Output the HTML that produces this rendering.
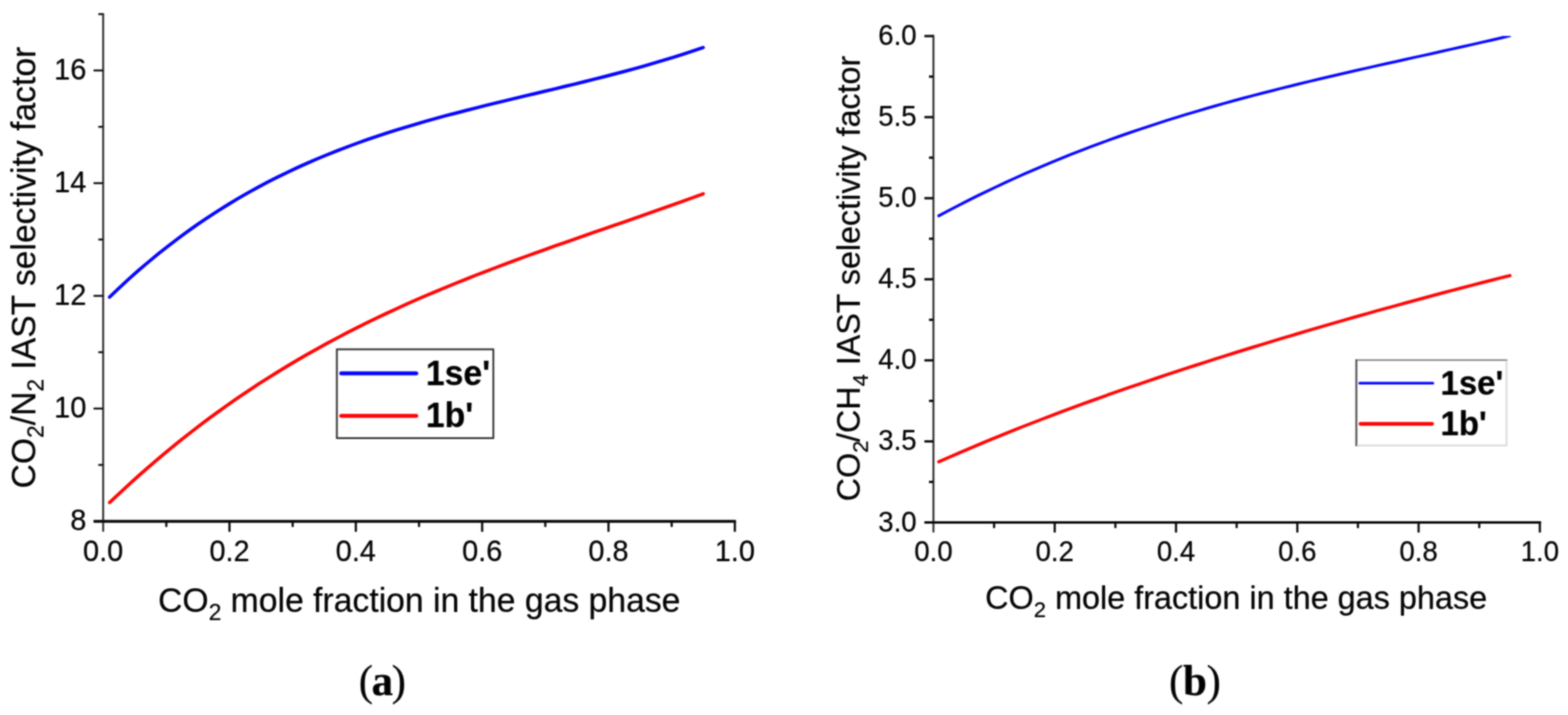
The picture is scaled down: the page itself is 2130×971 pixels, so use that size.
<!DOCTYPE html>
<html lang="en">
<head>
<meta charset="utf-8">
<title>IAST selectivity factors</title>
<style>
html,body{margin:0;padding:0;background:#fff;width:2130px;height:971px;}
svg{display:block;}
.sans{font-family:"Liberation Sans",Arial,Helvetica,sans-serif;}
.serif{font-family:"Liberation Serif","DejaVu Serif",serif;}
.ax{stroke:#000;fill:none;stroke-linecap:butt;}
text{fill:#000;}
.thin{stroke:none;stroke-width:0;stroke-linejoin:round;}
.thin2{stroke:#fff;stroke-width:0.3px;stroke-linejoin:round;}
</style>
</head>
<body>
<svg width="2130" height="971" viewBox="0 0 2130 971" role="img" aria-label="IAST selectivity factor plots (a) and (b)">
<defs><filter id="soft" x="0" y="0" width="2130" height="971" filterUnits="userSpaceOnUse"><feGaussianBlur in="SourceGraphic" stdDeviation="0.8" result="b0"/><feComponentTransfer in="b0" result="b"><feFuncA type="linear" slope="1.0"/></feComponentTransfer><feComponentTransfer in="SourceGraphic" result="s"><feFuncA type="linear" slope="0.3"/></feComponentTransfer><feMerge><feMergeNode in="b"/><feMergeNode in="s"/></feMerge></filter></defs>
<rect x="0" y="0" width="2130" height="971" fill="#ffffff"/>
<g filter="url(#soft)">

<g id="chart-a">
<g class="ax">
<line x1="140.15" y1="18.1" x2="140.15" y2="722.1" stroke="#222" stroke-width="2.2"/>
<line x1="127.15" y1="708" x2="999.6" y2="708" stroke="#000" stroke-width="3.3"/>
<line x1="127.15" y1="554.85" x2="140.15" y2="554.85" stroke="#000" stroke-width="2.2"/>
<line x1="127.15" y1="401.8" x2="140.15" y2="401.8" stroke="#000" stroke-width="2.2"/>
<line x1="127.15" y1="248.75" x2="140.15" y2="248.75" stroke="#000" stroke-width="2.2"/>
<line x1="127.15" y1="95.7" x2="140.15" y2="95.7" stroke="#000" stroke-width="2.2"/>
<line x1="133.65" y1="631.38" x2="140.15" y2="631.38" stroke="#000" stroke-width="2.2"/>
<line x1="133.65" y1="478.32" x2="140.15" y2="478.32" stroke="#000" stroke-width="2.2"/>
<line x1="133.65" y1="325.28" x2="140.15" y2="325.28" stroke="#000" stroke-width="2.2"/>
<line x1="133.65" y1="172.23" x2="140.15" y2="172.23" stroke="#000" stroke-width="2.2"/>
<line x1="133.65" y1="19.18" x2="140.15" y2="19.18" stroke="#000" stroke-width="2.2"/>
<line x1="225.96" y1="708" x2="225.96" y2="715.5" stroke="#000" stroke-width="2.6"/>
<line x1="311.76" y1="708" x2="311.76" y2="722.1" stroke="#000" stroke-width="2.6"/>
<line x1="397.57" y1="708" x2="397.57" y2="715.5" stroke="#000" stroke-width="2.6"/>
<line x1="483.37" y1="708" x2="483.37" y2="722.1" stroke="#000" stroke-width="2.6"/>
<line x1="569.18" y1="708" x2="569.18" y2="715.5" stroke="#000" stroke-width="2.6"/>
<line x1="654.98" y1="708" x2="654.98" y2="722.1" stroke="#000" stroke-width="2.6"/>
<line x1="740.78" y1="708" x2="740.78" y2="715.5" stroke="#000" stroke-width="2.6"/>
<line x1="826.59" y1="708" x2="826.59" y2="722.1" stroke="#000" stroke-width="2.6"/>
<line x1="912.4" y1="708" x2="912.4" y2="715.5" stroke="#000" stroke-width="2.6"/>
<line x1="998.2" y1="708" x2="998.2" y2="722.1" stroke="#000" stroke-width="2.6"/>
</g>
<g class="sans thin" font-size="39.3">
<text transform="translate(117.3 720.37) scale(1 1.045)" text-anchor="end">8</text>
<text transform="translate(117.3 567.32) scale(1 1.045)" text-anchor="end">10</text>
<text transform="translate(117.3 414.27) scale(1 1.045)" text-anchor="end">12</text>
<text transform="translate(117.3 261.22) scale(1 1.045)" text-anchor="end">14</text>
<text transform="translate(117.3 108.17) scale(1 1.045)" text-anchor="end">16</text>
<text transform="translate(140.15 761.8) scale(1 1.045)" text-anchor="middle">0.0</text>
<text transform="translate(311.76 761.8) scale(1 1.045)" text-anchor="middle">0.2</text>
<text transform="translate(483.37 761.8) scale(1 1.045)" text-anchor="middle">0.4</text>
<text transform="translate(654.98 761.8) scale(1 1.045)" text-anchor="middle">0.6</text>
<text transform="translate(826.59 761.8) scale(1 1.045)" text-anchor="middle">0.8</text>
<text transform="translate(998.2 761.8) scale(1 1.045)" text-anchor="middle">1.0</text>
</g>
<text class="sans" font-size="45.8" transform="translate(569.5 831) scale(1 1.0)" text-anchor="middle">CO<tspan font-size="31" dy="11.0">2</tspan><tspan dy="-11.0"> mole fraction in the gas phase</tspan></text>
<text class="sans" font-size="45.7" transform="translate(47.7 363.4) rotate(-90) scale(1 1.0)" text-anchor="middle">CO<tspan font-size="31" dy="11.0">2</tspan><tspan dy="-11.0" dx="0">/N</tspan><tspan font-size="31" dy="11.0">2</tspan><tspan dy="-11.0"> IAST selectivity factor</tspan></text>
<path d="M148.8 403.5 L162.2 390.7 L175.7 378.3 L189.1 366.4 L202.6 355.0 L216.0 343.9 L229.5 333.3 L242.9 323.1 L256.3 313.3 L269.8 303.8 L283.2 294.7 L296.7 286.0 L310.1 277.6 L323.5 269.5 L337.0 261.8 L350.4 254.4 L363.9 247.2 L377.3 240.4 L390.8 233.8 L404.2 227.5 L417.6 221.5 L431.1 215.6 L444.5 210.1 L458.0 204.7 L471.4 199.6 L484.8 194.6 L498.3 189.8 L511.7 185.2 L525.2 180.8 L538.6 176.5 L552.0 172.4 L565.5 168.4 L578.9 164.5 L592.4 160.8 L605.8 157.1 L619.3 153.6 L632.7 150.1 L646.1 146.7 L659.6 143.3 L673.0 140.0 L686.5 136.8 L699.9 133.5 L713.3 130.3 L726.8 127.1 L740.2 123.9 L753.7 120.7 L767.1 117.4 L780.6 114.2 L794.0 110.9 L807.4 107.5 L820.9 104.1 L834.3 100.6 L847.8 97.1 L861.2 93.4 L874.7 89.7 L888.1 85.8 L901.5 81.8 L915.0 77.7 L928.4 73.5 L941.9 69.1 L955.3 64.6" fill="none" stroke="#0000ff" stroke-width="4.2" stroke-linejoin="round" stroke-linecap="round"/>
<path d="M148.8 682.6 L162.2 669.9 L175.7 657.5 L189.1 645.4 L202.6 633.6 L216.0 622.1 L229.5 610.9 L242.9 599.9 L256.3 589.3 L269.8 578.9 L283.2 568.8 L296.7 559.0 L310.1 549.4 L323.5 540.1 L337.0 531.0 L350.4 522.1 L363.9 513.5 L377.3 505.1 L390.8 496.9 L404.2 488.9 L417.6 481.1 L431.1 473.6 L444.5 466.2 L458.0 459.0 L471.4 451.9 L484.8 445.1 L498.3 438.4 L511.7 431.9 L525.2 425.5 L538.6 419.3 L552.0 413.2 L565.5 407.2 L578.9 401.4 L592.4 395.7 L605.8 390.1 L619.3 384.6 L632.7 379.2 L646.1 373.9 L659.6 368.7 L673.0 363.6 L686.5 358.5 L699.9 353.5 L713.3 348.6 L726.8 343.7 L740.2 338.9 L753.7 334.1 L767.1 329.4 L780.6 324.7 L794.0 320.0 L807.4 315.3 L820.9 310.7 L834.3 306.0 L847.8 301.4 L861.2 296.7 L874.7 292.0 L888.1 287.3 L901.5 282.6 L915.0 277.8 L928.4 273.0 L941.9 268.1 L955.3 263.2" fill="none" stroke="#ff0000" stroke-width="4.2" stroke-linejoin="round" stroke-linecap="round"/>
<g id="legend-a">
<rect x="457.6" y="474.4" width="212.6" height="120.6" fill="none" stroke="#222" stroke-width="2"/>
<line x1="463.5" y1="507" x2="565.5" y2="507" stroke="#0000ff" stroke-width="5" stroke-linecap="round"/>
<line x1="463.5" y1="564.7" x2="565.5" y2="564.7" stroke="#ff0000" stroke-width="5" stroke-linecap="round"/>
<text class="sans" font-weight="bold" font-size="45.8" transform="translate(578.6 522.9) scale(1 1.04)">1se'</text>
<text class="sans" font-weight="bold" font-size="45.8" transform="translate(578.6 579.8) scale(1 1.04)">1b'</text>
</g>
<text class="serif" font-size="58.5" x="518.3" y="943.6" text-anchor="middle" letter-spacing="-2">(<tspan font-weight="bold">a</tspan>)</text>
</g>
<g id="chart-b">
<g class="ax">
<line x1="1268" y1="47.6" x2="1268" y2="723.1" stroke="#222" stroke-width="2.2"/>
<line x1="1255.8" y1="709.6" x2="2093.3" y2="709.6" stroke="#000" stroke-width="3.0"/>
<line x1="1255.8" y1="599.42" x2="1268" y2="599.42" stroke="#000" stroke-width="2.8"/>
<line x1="1255.8" y1="489.33" x2="1268" y2="489.33" stroke="#000" stroke-width="2.8"/>
<line x1="1255.8" y1="379.25" x2="1268" y2="379.25" stroke="#000" stroke-width="2.8"/>
<line x1="1255.8" y1="269.17" x2="1268" y2="269.17" stroke="#000" stroke-width="2.8"/>
<line x1="1255.8" y1="159.08" x2="1268" y2="159.08" stroke="#000" stroke-width="2.8"/>
<line x1="1255.8" y1="49" x2="1268" y2="49" stroke="#000" stroke-width="2.8"/>
<line x1="1262" y1="654.46" x2="1268" y2="654.46" stroke="#000" stroke-width="2.8"/>
<line x1="1262" y1="544.38" x2="1268" y2="544.38" stroke="#000" stroke-width="2.8"/>
<line x1="1262" y1="434.29" x2="1268" y2="434.29" stroke="#000" stroke-width="2.8"/>
<line x1="1262" y1="324.21" x2="1268" y2="324.21" stroke="#000" stroke-width="2.8"/>
<line x1="1262" y1="214.12" x2="1268" y2="214.12" stroke="#000" stroke-width="2.8"/>
<line x1="1262" y1="104.04" x2="1268" y2="104.04" stroke="#000" stroke-width="2.8"/>
<line x1="1350.38" y1="709.6" x2="1350.38" y2="717.1" stroke="#000" stroke-width="2.6"/>
<line x1="1432.76" y1="709.6" x2="1432.76" y2="723.1" stroke="#000" stroke-width="2.6"/>
<line x1="1515.14" y1="709.6" x2="1515.14" y2="717.1" stroke="#000" stroke-width="2.6"/>
<line x1="1597.52" y1="709.6" x2="1597.52" y2="723.1" stroke="#000" stroke-width="2.6"/>
<line x1="1679.9" y1="709.6" x2="1679.9" y2="717.1" stroke="#000" stroke-width="2.6"/>
<line x1="1762.28" y1="709.6" x2="1762.28" y2="723.1" stroke="#000" stroke-width="2.6"/>
<line x1="1844.66" y1="709.6" x2="1844.66" y2="717.1" stroke="#000" stroke-width="2.6"/>
<line x1="1927.04" y1="709.6" x2="1927.04" y2="723.1" stroke="#000" stroke-width="2.6"/>
<line x1="2009.42" y1="709.6" x2="2009.42" y2="717.1" stroke="#000" stroke-width="2.6"/>
<line x1="2091.8" y1="709.6" x2="2091.8" y2="723.1" stroke="#000" stroke-width="2.6"/>
</g>
<g class="sans thin" font-size="37.5">
<text transform="translate(1245.2 721.52) scale(1 1.045)" text-anchor="end">3.0</text>
<text transform="translate(1245.2 611.44) scale(1 1.045)" text-anchor="end">3.5</text>
<text transform="translate(1245.2 501.36) scale(1 1.045)" text-anchor="end">4.0</text>
<text transform="translate(1245.2 391.28) scale(1 1.045)" text-anchor="end">4.5</text>
<text transform="translate(1245.2 281.19) scale(1 1.045)" text-anchor="end">5.0</text>
<text transform="translate(1245.2 171.11) scale(1 1.045)" text-anchor="end">5.5</text>
<text transform="translate(1245.2 61.02) scale(1 1.045)" text-anchor="end">6.0</text>
<text transform="translate(1268 761.8) scale(1 1.045)" text-anchor="middle">0.0</text>
<text transform="translate(1432.76 761.8) scale(1 1.045)" text-anchor="middle">0.2</text>
<text transform="translate(1597.52 761.8) scale(1 1.045)" text-anchor="middle">0.4</text>
<text transform="translate(1762.28 761.8) scale(1 1.045)" text-anchor="middle">0.6</text>
<text transform="translate(1927.04 761.8) scale(1 1.045)" text-anchor="middle">0.8</text>
<text transform="translate(2091.8 761.8) scale(1 1.045)" text-anchor="middle">1.0</text>
</g>
<text class="sans" font-size="44.0" transform="translate(1679.2 827) scale(1 1.0)" text-anchor="middle">CO<tspan font-size="30" dy="10.6">2</tspan><tspan dy="-10.6"> mole fraction in the gas phase</tspan></text>
<text class="sans" font-size="43.8" transform="translate(1167.9 378.2) rotate(-90) scale(1 1.0)" text-anchor="middle">CO<tspan font-size="30" dy="10.6">2</tspan><tspan dy="-10.6" dx="-2">/CH</tspan><tspan font-size="30" dy="10.6">4</tspan><tspan dy="-10.6"> IAST selectivity factor</tspan></text>
<clipPath id="clip-b"><rect x="1269" y="48.9" width="830" height="661"/></clipPath>
<path d="M1275.2 293.1 L1288.1 286.2 L1301.1 279.5 L1314.0 272.9 L1326.9 266.4 L1339.9 260.1 L1352.8 254.0 L1365.7 247.9 L1378.6 242.0 L1391.6 236.2 L1404.5 230.6 L1417.4 225.1 L1430.4 219.7 L1443.3 214.4 L1456.2 209.2 L1469.2 204.1 L1482.1 199.2 L1495.0 194.4 L1507.9 189.7 L1520.9 185.0 L1533.8 180.5 L1546.7 176.1 L1559.7 171.8 L1572.6 167.6 L1585.5 163.4 L1598.5 159.4 L1611.4 155.4 L1624.3 151.6 L1637.2 147.8 L1650.2 144.0 L1663.1 140.4 L1676.0 136.8 L1689.0 133.3 L1701.9 129.9 L1714.8 126.5 L1727.8 123.2 L1740.7 119.9 L1753.6 116.7 L1766.5 113.5 L1779.5 110.4 L1792.4 107.3 L1805.3 104.2 L1818.3 101.2 L1831.2 98.2 L1844.1 95.3 L1857.0 92.4 L1870.0 89.4 L1882.9 86.5 L1895.8 83.7 L1908.8 80.8 L1921.7 77.9 L1934.6 75.1 L1947.6 72.2 L1960.5 69.3 L1973.4 66.4 L1986.3 63.5 L1999.3 60.6 L2012.2 57.6 L2025.1 54.7 L2038.1 51.7 L2051.0 48.6" fill="none" stroke="#0000ff" stroke-width="3.5" stroke-linejoin="round" stroke-linecap="round" clip-path="url(#clip-b)"/>
<path d="M1275.2 627.2 L1288.1 621.5 L1301.1 615.8 L1314.0 610.3 L1326.9 604.8 L1339.9 599.4 L1352.8 594.1 L1365.7 588.8 L1378.7 583.6 L1391.6 578.5 L1404.6 573.5 L1417.5 568.5 L1430.4 563.6 L1443.4 558.7 L1456.3 553.9 L1469.2 549.1 L1482.2 544.5 L1495.1 539.8 L1508.0 535.2 L1521.0 530.7 L1533.9 526.2 L1546.8 521.8 L1559.8 517.4 L1572.7 513.0 L1585.6 508.7 L1598.6 504.4 L1611.5 500.2 L1624.4 496.0 L1637.4 491.8 L1650.3 487.7 L1663.2 483.6 L1676.2 479.5 L1689.1 475.5 L1702.1 471.5 L1715.0 467.6 L1727.9 463.6 L1740.9 459.7 L1753.8 455.9 L1766.7 452.0 L1779.7 448.2 L1792.6 444.4 L1805.5 440.7 L1818.5 436.9 L1831.4 433.2 L1844.3 429.5 L1857.3 425.9 L1870.2 422.2 L1883.1 418.6 L1896.1 415.1 L1909.0 411.5 L1922.0 408.0 L1934.9 404.5 L1947.8 401.0 L1960.8 397.5 L1973.7 394.1 L1986.6 390.7 L1999.6 387.4 L2012.5 384.0 L2025.4 380.7 L2038.4 377.4 L2051.3 374.2" fill="none" stroke="#ff0000" stroke-width="4.0" stroke-linejoin="round" stroke-linecap="round" clip-path="url(#clip-b)"/>
<g id="legend-b">
<path d="M2046.5 489 V605 H1842.5" fill="none" stroke="#d8d8d8" stroke-width="2"/>
<path d="M1841.5 489 H2047.5" fill="none" stroke="#8a8a8a" stroke-width="2"/>
<path d="M1842.5 488 V606" fill="none" stroke="#3a3a3a" stroke-width="2"/>
<line x1="1847" y1="520.4" x2="1946.5" y2="520.4" stroke="#0000ff" stroke-width="3.2" stroke-linecap="round"/>
<line x1="1848" y1="575.6" x2="1945.5" y2="575.6" stroke="#ff0000" stroke-width="4.6" stroke-linecap="round"/>
<text class="sans" font-weight="bold" font-size="44.8" transform="translate(1956.8 536.4) scale(1 1.04)">1se'</text>
<text class="sans" font-weight="bold" font-size="44.8" transform="translate(1956.8 590.7) scale(1 1.04)">1b'</text>
</g>
<text class="serif" font-size="58.5" x="1623.0" y="943.8" text-anchor="middle" letter-spacing="-0.5">(<tspan font-weight="bold">b</tspan>)</text>
</g>
</g>
</svg>
</body>
</html>
